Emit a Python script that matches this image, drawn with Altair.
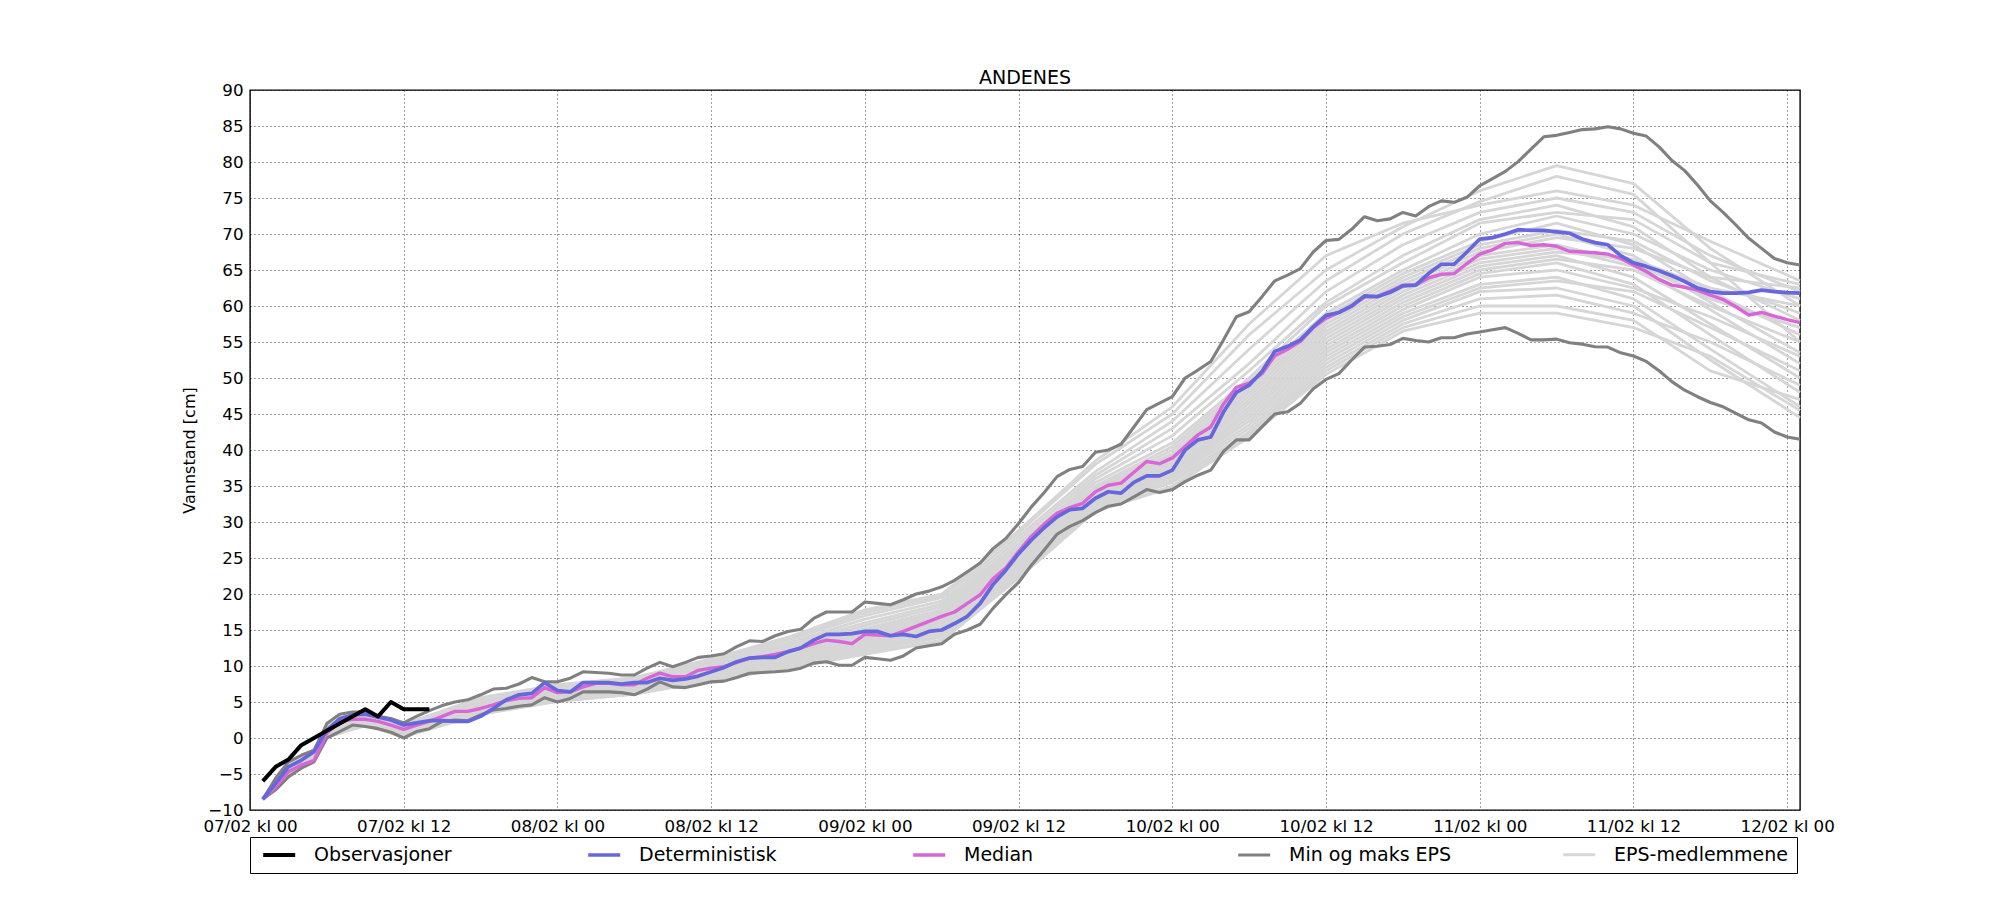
import altair as alt
import pandas as pd

# ---------------- data ----------------
hours = list(range(1, 122))
obs_hours = list(range(1, 15))
observasjoner = [-6, -4, -3, -1, 0, 1, 2, 3, 4, 3, 5, 4, 4, 4]

deterministisk = [
    -8.5, -6.3, -4.0, -3.1, -1.9, 1.1, 2.7, 3.2, 3.3, 2.9,
    2.5, 1.8, 2.1, 2.4, 2.4, 2.3, 2.3, 3.0, 4.1, 5.3,
    6.0, 6.2, 7.7, 6.6, 6.4, 7.7, 7.7, 7.7, 7.5, 7.7,
    7.7, 8.3, 8.0, 8.2, 8.6, 9.2, 9.8, 10.6, 11.1, 11.2,
    11.2, 12.0, 12.5, 13.6, 14.4, 14.4, 14.5, 14.8, 14.8, 14.2,
    14.4, 14.1, 14.8, 15.0, 15.9, 16.9, 18.7, 21.3, 23.3, 25.6,
    27.5, 29.2, 30.7, 31.7, 31.9, 33.3, 34.2, 34.0, 35.5, 36.4,
    36.4, 37.2, 40.0, 41.4, 41.8, 45.3, 48.0, 49.0, 50.9, 53.7,
    54.4, 55.3, 57.1, 58.7, 59.1, 60.0, 61.4, 61.3, 61.9, 62.8,
    62.9, 64.5, 65.8, 65.8, 67.5, 69.3, 69.5, 70.0, 70.6, 70.5,
    70.5, 70.3, 70.1, 69.3, 68.8, 68.5, 67.0, 66.0, 65.5, 64.9,
    64.2, 63.4, 62.5, 62.0, 61.8, 61.8, 61.9, 62.2, 62.0, 61.85,
    61.8,
]

median = [
    -8.5, -6.8, -4.7, -3.75, -3.1, 0.65, 2.3, 2.6, 2.6, 2.3,
    1.8, 1.2, 1.8, 2.3, 3.0, 3.7, 3.7, 4.1, 4.6, 5.2,
    5.5, 5.6, 7.0, 6.3, 6.4, 7.1, 7.6, 7.6, 7.4, 7.4,
    8.3, 9.0, 8.5, 8.5, 9.4, 9.7, 9.9, 10.5, 11.1, 11.3,
    11.6, 12.0, 12.5, 13.1, 13.6, 13.4, 13.1, 14.4, 14.3, 14.2,
    14.8, 15.5, 16.2, 16.9, 17.5, 18.7, 19.9, 22.1, 23.6, 25.9,
    28.0, 29.7, 31.2, 32.0, 32.6, 34.2, 35.1, 35.4, 36.9, 38.4,
    38.1, 38.9, 40.5, 42.1, 43.2, 46.4, 48.7, 49.3, 50.6, 53.1,
    54.0, 55.1, 57.0, 58.3, 59.1, 60.0, 61.25, 61.3, 62.05, 62.9,
    62.9, 63.9, 64.4, 64.5, 65.9, 67.2, 67.8, 68.7, 68.8, 68.4,
    68.5, 68.3, 67.6, 67.5, 67.4, 67.2, 66.6, 65.7, 64.8, 63.7,
    62.9, 62.6, 62.2, 61.5, 60.9, 59.9, 58.75, 59.1, 58.6, 58.1,
    57.7,
]

eps_max = [
    -8.5, -5.6, -3.3, -2.4, -1.7, 2.0, 3.3, 3.6, 3.6, 3.0,
    2.7, 2.1, 3.0, 3.8, 4.5, 5.0, 5.3, 6.0, 6.8, 6.9,
    7.5, 8.4, 7.8, 7.8, 8.3, 9.2, 9.1, 9.0, 8.75, 8.75,
    9.7, 10.5, 9.9, 10.5, 11.2, 11.4, 11.7, 12.7, 13.5, 13.4,
    14.2, 14.8, 15.1, 16.6, 17.5, 17.5, 17.5, 18.9, 18.7, 18.5,
    19.2, 20.0, 20.4, 21.0, 21.9, 23.1, 24.3, 26.3, 27.7, 29.8,
    32.1, 34.1, 36.3, 37.3, 37.7, 39.7, 40.0, 40.8, 43.2, 45.6,
    46.5, 47.4, 50.0, 51.1, 52.3, 55.3, 58.5, 59.2, 61.3, 63.5,
    64.3, 65.2, 67.5, 69.1, 69.25, 70.65, 72.4, 71.85, 72.1, 73.0,
    72.5, 73.8, 74.6, 74.4, 75.1, 76.7, 77.7, 78.7, 80.05, 81.8,
    83.5, 83.7, 84.1, 84.5, 84.6, 84.9, 84.6, 84.0, 83.6, 82.1,
    80.2, 78.8, 76.8, 74.6, 73.0, 71.25, 69.4, 68.0, 66.6, 66.0,
    65.7,
]

eps_min = [
    -8.5, -7.2, -5.4, -4.2, -3.3, 0.0, 0.9, 1.8, 1.6, 1.3,
    0.8, 0.0, 0.9, 1.3, 2.3, 2.5, 2.4, 3.2, 3.9, 4.1,
    4.4, 4.6, 5.6, 5.0, 5.5, 6.4, 6.4, 6.4, 6.3, 6.0,
    6.8, 7.8, 7.1, 7.0, 7.4, 7.8, 7.9, 8.4, 9.0, 9.1,
    9.2, 9.35, 9.7, 10.4, 10.6, 10.1, 10.1, 11.2, 11.0, 10.8,
    11.4, 12.5, 12.8, 13.1, 14.4, 15.0, 15.8, 18.0, 19.9, 21.6,
    24.0, 26.1, 28.3, 29.4, 30.2, 31.3, 32.2, 32.5, 33.5, 34.5,
    34.1, 34.5, 35.6, 36.5, 37.2, 39.8, 41.4, 41.4, 43.2, 45.0,
    45.3, 46.5, 48.5, 49.8, 50.6, 52.5, 54.3, 54.4, 54.65, 55.5,
    55.2, 55.0, 55.6, 55.6, 56.1, 56.4, 56.7, 57.0, 56.2, 55.3,
    55.3, 55.4, 54.9, 54.7, 54.35, 54.3, 53.5, 53.05, 52.3, 51.0,
    49.5, 48.3, 47.4, 46.6, 46.0, 45.1, 44.2, 43.75, 42.5, 41.8,
    41.5,
]

member_hours = [1, 3, 5, 6, 9, 12, 18, 24, 30, 36, 42, 48, 54, 60, 66, 72,
                78, 84, 90, 96, 102, 108, 114, 121]
eps_members = [
    [-8.5, -3.6, -2.0, 1.8, 3.4, 1.9, 5.6, 7.4, 8.4, 11.0, 14.0, 17.8, 20.0, 28.5, 38.0, 45.0, 56.0, 65.0, 71.0, 76.0, 79.5, 77.0, 68.0, 60.0],
    [-8.5, -3.8, -2.1, 1.6, 3.3, 1.7, 5.2, 7.2, 8.2, 10.6, 13.6, 17.0, 19.5, 28.0, 37.0, 44.0, 54.0, 63.5, 70.0, 74.5, 78.0, 75.5, 66.0, 55.0],
    [-8.5, -3.9, -2.2, 1.4, 3.2, 1.5, 5.0, 7.0, 8.0, 10.4, 13.2, 16.5, 19.0, 27.5, 36.5, 43.0, 52.0, 62.0, 68.5, 73.0, 75.0, 73.0, 67.0, 62.0],
    [-8.5, -4.0, -2.3, 1.2, 3.1, 1.4, 4.8, 6.9, 7.9, 10.2, 13.0, 16.0, 18.6, 27.0, 36.0, 42.0, 51.0, 60.5, 67.0, 72.0, 74.0, 71.0, 64.0, 58.0],
    [-8.5, -4.1, -2.4, 1.1, 3.0, 1.3, 4.6, 6.8, 7.8, 10.0, 12.8, 15.6, 18.2, 26.8, 35.5, 41.0, 50.0, 60.0, 66.0, 71.5, 73.0, 72.0, 66.0, 63.0],
    [-8.5, -4.2, -2.5, 1.0, 2.9, 1.2, 4.5, 6.7, 7.7, 9.9, 12.6, 15.2, 17.8, 26.5, 35.0, 40.5, 49.5, 59.0, 65.0, 70.0, 72.5, 70.0, 65.0, 61.0],
    [-8.5, -4.3, -2.6, 0.9, 2.8, 1.2, 4.4, 6.6, 7.6, 9.8, 12.4, 15.0, 17.5, 26.2, 34.8, 40.0, 49.0, 58.5, 64.5, 69.0, 71.5, 68.5, 62.0, 56.0],
    [-8.5, -4.4, -2.6, 0.8, 2.7, 1.1, 4.3, 6.5, 7.5, 9.7, 12.2, 14.8, 17.2, 26.0, 34.5, 39.5, 48.5, 58.0, 64.0, 68.5, 70.5, 69.0, 63.5, 59.0],
    [-8.5, -4.4, -2.7, 0.8, 2.6, 1.0, 4.2, 6.4, 7.4, 9.6, 12.0, 14.6, 17.0, 25.8, 34.2, 39.2, 48.0, 57.5, 63.5, 68.0, 70.0, 67.0, 60.5, 53.5],
    [-8.5, -4.5, -2.8, 0.7, 2.5, 1.0, 4.1, 6.3, 7.3, 9.5, 11.9, 14.4, 16.8, 25.6, 34.0, 38.8, 47.5, 57.0, 63.0, 67.5, 69.5, 68.0, 64.0, 62.5],
    [-8.5, -4.6, -2.8, 0.6, 2.4, 0.9, 4.0, 6.2, 7.2, 9.4, 11.8, 14.2, 16.5, 25.4, 33.8, 38.5, 47.0, 56.5, 62.5, 67.0, 68.5, 66.0, 61.0, 57.0],
    [-8.5, -4.6, -2.9, 0.6, 2.3, 0.8, 3.9, 6.1, 7.1, 9.3, 11.6, 14.0, 16.2, 25.2, 33.6, 38.2, 46.5, 56.0, 62.0, 66.5, 68.0, 65.5, 59.5, 52.0],
    [-8.5, -4.7, -2.9, 0.5, 2.3, 0.8, 3.8, 6.0, 7.0, 9.2, 11.5, 13.8, 16.0, 25.0, 33.4, 38.0, 46.0, 55.5, 61.5, 66.0, 67.5, 66.5, 62.5, 60.0],
    [-8.5, -4.7, -3.0, 0.5, 2.2, 0.7, 3.8, 5.9, 6.9, 9.1, 11.3, 13.6, 15.8, 24.8, 33.2, 37.6, 45.5, 55.0, 61.0, 65.5, 67.0, 64.0, 57.5, 50.0],
    [-8.5, -4.8, -3.0, 0.4, 2.1, 0.7, 3.7, 5.8, 6.8, 9.0, 11.2, 13.4, 15.6, 24.6, 33.0, 37.3, 45.0, 54.5, 60.5, 65.0, 66.5, 65.0, 60.0, 55.0],
    [-8.5, -4.8, -3.0, 0.4, 2.1, 0.6, 3.6, 5.7, 6.7, 8.9, 11.0, 13.2, 15.4, 24.4, 32.8, 37.0, 44.5, 54.0, 60.0, 64.5, 66.0, 63.0, 56.0, 48.0],
    [-8.5, -4.9, -3.1, 0.3, 2.0, 0.6, 3.6, 5.6, 6.6, 8.8, 10.9, 13.0, 15.2, 24.2, 32.6, 36.8, 44.0, 53.5, 59.5, 64.0, 65.0, 62.5, 58.5, 53.0],
    [-8.5, -4.9, -3.1, 0.3, 2.0, 0.5, 3.5, 5.5, 6.5, 8.7, 10.7, 12.8, 15.0, 24.0, 32.4, 36.5, 43.5, 53.0, 59.0, 63.0, 64.0, 61.0, 54.0, 46.0],
    [-8.5, -5.0, -3.1, 0.2, 1.9, 0.4, 3.5, 5.4, 6.4, 8.5, 10.5, 12.5, 14.6, 23.6, 32.2, 36.2, 43.0, 52.5, 58.5, 62.5, 63.5, 62.0, 57.0, 51.0],
    [-8.5, -5.0, -3.2, 0.2, 1.9, 0.4, 3.4, 5.3, 6.3, 8.4, 10.3, 12.2, 14.3, 23.2, 32.0, 35.8, 42.5, 52.0, 58.0, 62.0, 62.5, 60.0, 52.5, 44.5],
    [-8.5, -5.1, -3.2, 0.1, 1.8, 0.3, 3.4, 5.2, 6.2, 8.2, 10.0, 12.0, 14.0, 22.8, 31.8, 35.5, 42.2, 51.5, 57.5, 61.0, 61.5, 59.0, 55.0, 49.0],
    [-8.5, -5.1, -3.2, 0.1, 1.8, 0.2, 3.3, 5.1, 6.1, 8.0, 9.8, 11.7, 13.6, 22.4, 31.6, 35.0, 42.0, 51.0, 57.0, 60.0, 60.0, 58.0, 51.0, 47.0],
    [-8.5, -5.2, -3.2, 0.1, 1.7, 0.2, 3.3, 5.1, 6.1, 8.0, 9.7, 11.6, 13.5, 22.2, 31.5, 34.8, 41.8, 50.5, 56.5, 59.0, 59.0, 57.0, 53.0, 45.5],
    [-8.5, -3.7, -1.9, 1.5, 3.4, 1.8, 5.4, 7.3, 8.3, 10.8, 13.8, 17.4, 19.8, 28.8, 38.5, 46.0, 57.5, 67.0, 71.5, 74.0, 76.0, 74.0, 69.0, 63.5],
]

tick_hours = list(range(0, 121, 12))
tick_labels = ["07/02 kl 00", "07/02 kl 12", "08/02 kl 00", "08/02 kl 12",
               "09/02 kl 00", "09/02 kl 12", "10/02 kl 00", "10/02 kl 12",
               "11/02 kl 00", "11/02 kl 12", "12/02 kl 00"]
y_ticks = list(range(-10, 91, 5))

series_names = ["Observasjoner", "Deterministisk", "Median",
                "Min og maks EPS", "EPS-medlemmene"]
series_colors = ["#000000", "#6666dd", "#d966d6", "#808080", "#d6d6d6"]
series_widths = [4.0, 2.8, 2.8, 2.8, 0.7]

# ---------------- tables ----------------
def long(xs, ys, series, member):
    return pd.DataFrame({"hour": xs, "value": ys, "series": series, "member": member})

df_obs = long(obs_hours, observasjoner, "Observasjoner", "obs")
df_det = long(hours, deterministisk, "Deterministisk", "det")
df_med = long(hours, median, "Median", "med")
df_mm = pd.concat([long(hours, eps_max, "Min og maks EPS", "max"),
                   long(hours, eps_min, "Min og maks EPS", "min")])
df_mem = pd.concat([long(member_hours, m, "EPS-medlemmene", f"m{i:02d}")
                    for i, m in enumerate(eps_members)])

label_expr = "[" + ",".join(f"'{t}'" for t in tick_labels) + "][round(datum.value / 12)]"

x_enc = alt.X("hour:Q", title=None,
              scale=alt.Scale(domain=[0, 121], nice=False, zero=False),
              axis=alt.Axis(values=tick_hours, labelExpr=label_expr,
                            labelPadding=8, labelFlush=False))
y_enc = alt.Y("value:Q", title="Vannstand [cm]",
              scale=alt.Scale(domain=[-10, 90], nice=False, zero=False),
              axis=alt.Axis(values=y_ticks, format="d", labelPadding=7,
                            titlePadding=10))

legend = alt.Legend(title=None, orient="none", legendX=0, legendY=747,
                    direction="horizontal", columns=5,
                    symbolType="M-0.6,0H3.4", symbolSize=256,
                    labelFontSize=19, labelFont="DejaVu Sans",
                    labelColor="black", strokeColor="black", padding=8,
                    gridAlign="all", columnPadding=91, labelOffset=36,
                    labelLimit=400)
color_enc = alt.Color("series:N", legend=legend,
                      scale=alt.Scale(domain=series_names, range=series_colors))
width_enc = alt.StrokeWidth("series:N", legend=legend,
                            scale=alt.Scale(domain=series_names, range=series_widths))


def layer(df):
    return alt.Chart(df).mark_line(strokeJoin="round").encode(
        x=x_enc, y=y_enc, color=color_enc, strokeWidth=width_enc,
        detail="member:N")


chart = alt.layer(
    layer(df_mem), layer(df_mm), layer(df_med), layer(df_det), layer(df_obs)
).properties(
    width=1550, height=720,
    title=alt.TitleParams("ANDENES", fontSize=19, fontWeight="normal",
                          font="DejaVu Sans", anchor="middle", offset=8,
                          dy=14, color="black"),
    autosize=alt.AutoSizeParams(type="none"),
    padding={"left": 242, "top": 82, "right": 190, "bottom": 90},
    background="white",
).configure_view(
    stroke="black", strokeWidth=1.4
).configure_axis(
    grid=True, gridColor="#000000", gridDash=[1, 3], gridWidth=1, gridOpacity=0.75,
    domain=False, ticks=False, tickSize=0,
    labelFont="DejaVu Sans", labelFontSize=16.7, labelColor="black",
    titleFont="DejaVu Sans", titleFontSize=16, titleFontWeight="normal",
    titleColor="black",
)

chart.save("out.html", embed_options={"renderer": "svg", "actions": False})
